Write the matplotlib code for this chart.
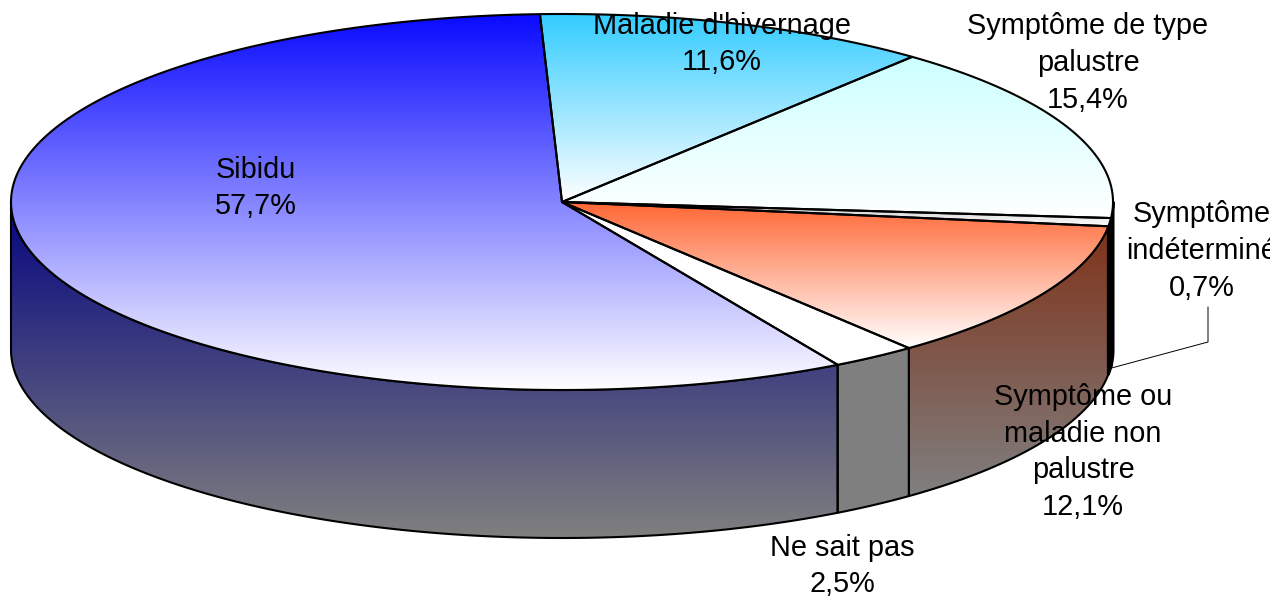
import numpy as np
import matplotlib
matplotlib.use("Agg")
import matplotlib.pyplot as plt
from matplotlib.patches import Polygon
from matplotlib.transforms import Bbox, TransformedBbox
from matplotlib.colors import to_rgb

# ---- data ----
categories = ["Sibidu", "Ne sait pas", "Symptôme ou\nmaladie non\npalustre",
              "Symptôme\nindéterminé", "Symptôme de type\npalustre",
              "Maladie d'hivernage"]
shares = [57.7, 2.5, 12.1, 0.7, 15.4, 11.6]
value_labels = ["57,7%", "2,5%", "12,1%", "0,7%", "15,4%", "11,6%"]
colors = ["#0a0aff", "#ffffff", "#ff6633", "#c0c0c0", "#ccffff", "#33ccff"]

# ---- layout (pixel space) ----
W, H = 1287, 599
cx, cy = 562, 202          # centre of the top ellipse
rx, ry = 551, 188          # ellipse radii
depth = 148                # height of the cylinder wall
start_deg = 92.3           # where the first slice begins (counter-clockwise)
label_pos = [(256, 188), (842, 566), (1083, 452), (1202, 251), (1088, 63), (722, 44)]

plt.rcParams["font.family"] = ["Liberation Sans", "DejaVu Sans"]
fig = plt.figure(figsize=(W / 100, H / 100), dpi=100)
ax = fig.add_axes([0, 0, 1, 1])
ax.axis("off")
ax.set_xlim(0, W)
ax.set_ylim(H, 0)

EDGE_W = 1.5


def arc(t0, t1, dy=0.0, n=200):
    t = np.radians(np.linspace(t0, t1, n))
    return np.column_stack([cx + rx * np.cos(t), cy - ry * np.sin(t) + dy])


def gradient_fill(verts, c_top, c_bot, z, lw=EDGE_W):
    poly = Polygon(verts, closed=True, facecolor="none", edgecolor="none",
                   transform=ax.transData)
    ax.add_patch(poly)
    x0, x1 = verts[:, 0].min(), verts[:, 0].max()
    y0, y1 = verts[:, 1].min(), verts[:, 1].max()
    f = np.linspace(0, 1, 256)[:, None]
    img = (1 - f) * np.array(c_top) + f * np.array(c_bot)
    img = np.repeat(img[:, None, :], 2, axis=1)
    im = ax.imshow(img, extent=(x0, x1, y1, y0), origin="upper",
                   aspect="auto", interpolation="bilinear", zorder=z)
    im.set_clip_path(poly)
    ax.add_patch(Polygon(verts, closed=True, facecolor="none",
                         edgecolor="black", linewidth=lw, zorder=z + 0.5,
                         joinstyle="round"))


angles = start_deg + np.concatenate([[0], np.cumsum(shares)]) * 3.6
white = np.array([1.0, 1.0, 1.0])

# cylinder wall (front half only: 180..360 degrees)
for i, c in enumerate(colors):
    a0, a1 = angles[i], angles[i + 1]
    for off in (0, 360):
        s0, s1 = max(a0, 180 + off), min(a1, 360 + off)
        if s1 <= s0:
            continue
        top = arc(s0, s1)
        bot = arc(s1, s0, dy=depth)
        verts = np.vstack([top, bot])
        base = np.array(to_rgb(c))
        # very narrow wall pieces read as a heavy edge
        narrow = (s1 - s0) < 6
        gradient_fill(verts, 0.5 * base, 0.5 * white, z=1,
                      lw=2.2 if narrow else EDGE_W)

# top faces
for i, c in enumerate(colors):
    a0, a1 = angles[i], angles[i + 1]
    verts = np.vstack([[cx, cy], arc(a0, a1)])
    base = np.array(to_rgb(c))
    gradient_fill(verts, base, white, z=3)

# labels (the plot area ends a little before the right border)
clip_box = TransformedBbox(Bbox([[0, 0], [1270, H]]), ax.transData)
for name, val, (lx, ly) in zip(categories, value_labels, label_pos):
    t = ax.text(lx, ly, f"{name}\n{val}", ha="center", va="center",
                fontsize=20.8, linespacing=1.40, color="black", zorder=10,
                multialignment="center")
    t.set_clip_box(clip_box)
    t.set_clip_on(True)

# leader line for the thin slice
i = 3
mid = np.radians((angles[i] + angles[i + 1]) / 2)
ex, ey = cx + rx * np.cos(mid), cy - ry * np.sin(mid) + depth
ax.plot([1208, 1208, ex + 1], [307, 342, ey - 2], color="black",
        linewidth=0.7, zorder=9)

fig.savefig("out.png", dpi=100, facecolor="white")
